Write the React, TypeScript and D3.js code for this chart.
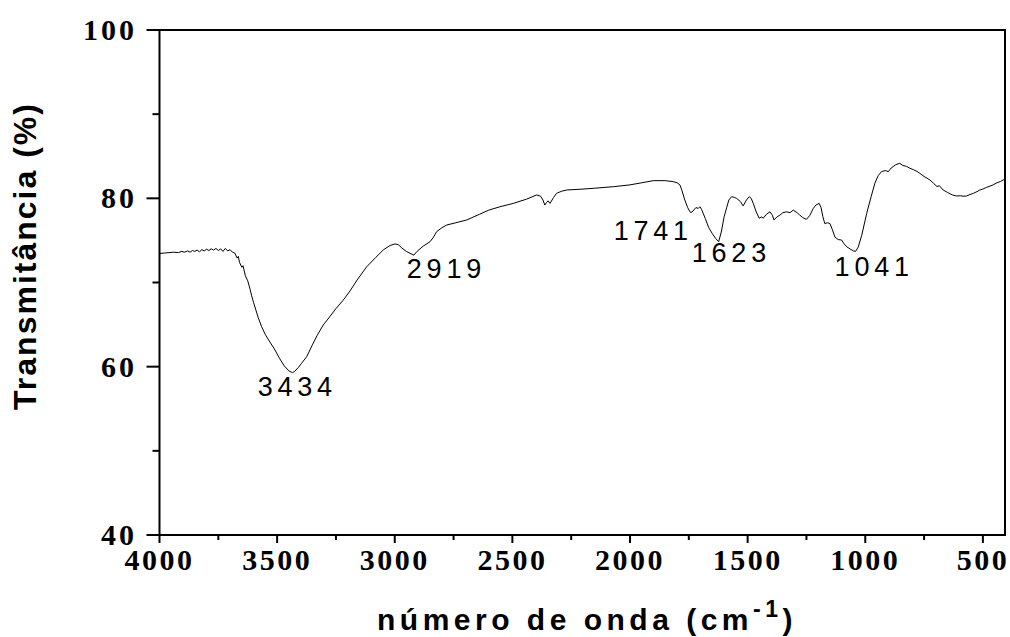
import React from "react";
import * as d3 from "d3";

// FTIR spectrum: wavenumber (cm-1) and transmittance (%)
const wavenumber = [
  4000, 3980, 3960, 3940, 3920, 3905, 3895, 3880, 3870, 3860, 3850, 3840, 3830, 3820, 3810, 3800,
  3790, 3780, 3770, 3760, 3750, 3740, 3730, 3720, 3710, 3700, 3690, 3680, 3670, 3665, 3660, 3650,
  3645, 3635, 3625, 3615, 3608, 3600, 3590, 3580, 3566, 3550, 3530, 3509, 3490, 3470, 3450, 3440,
  3434, 3425, 3410, 3396, 3374, 3350, 3330, 3304, 3280, 3250, 3219, 3190, 3160, 3119, 3080, 3049,
  3020, 2999, 2985, 2970, 2949, 2930, 2919, 2905, 2880, 2850, 2835, 2822, 2800, 2779, 2740, 2694,
  2640, 2600, 2553, 2496, 2440, 2397, 2380, 2370, 2362, 2355, 2348, 2340, 2325, 2312, 2290, 2269,
  2200, 2150, 2071, 2000, 1950, 1901, 1850, 1816, 1800, 1788, 1780, 1767, 1755, 1745, 1741, 1732,
  1720, 1710, 1703, 1696, 1680, 1665, 1650, 1635, 1623, 1612, 1600, 1589, 1580, 1568, 1555, 1547,
  1530, 1519, 1505, 1493, 1485, 1476, 1465, 1451, 1440, 1434, 1420, 1405, 1395, 1388, 1375, 1363,
  1350, 1335, 1320, 1306, 1290, 1278, 1265, 1250, 1235, 1221, 1210, 1196, 1188, 1180, 1172, 1160,
  1150, 1140, 1129, 1115, 1101, 1090, 1079, 1065, 1050, 1041, 1030, 1015, 994, 975, 959, 945,
  931, 915, 902, 890, 870, 853, 840, 825, 810, 795, 780, 768, 750, 725, 710, 695,
  685, 669, 650, 630, 612, 595, 580, 569, 555, 540, 525, 513, 500, 485, 470, 456,
  440, 425, 414, 406,
];

const transmittance = [
  73.45, 73.5, 73.55, 73.6, 73.55, 73.7, 73.6, 73.75, 73.6, 73.8, 73.7, 73.85, 73.65, 73.9, 73.75, 73.95,
  73.8, 74.0, 73.85, 74.05, 73.8, 74.0, 73.7, 74.05, 73.75, 73.9, 73.6, 73.5, 72.9, 73.1, 72.4, 71.8,
  72.0, 70.8, 70.2, 69.2, 68.4, 67.6, 66.7, 65.8, 64.75, 63.8, 62.9, 61.98, 61.0, 60.1, 59.5, 59.35,
  59.3, 59.45, 59.9, 60.4, 61.2, 62.6, 63.7, 64.95, 65.8, 66.9, 67.9, 69.0, 70.3, 71.88, 73.0, 73.86,
  74.4, 74.58, 74.5, 74.1, 73.66, 73.4, 73.25, 73.7, 74.3, 74.85, 75.4, 76.04, 76.5, 76.83, 77.1, 77.43,
  78.1, 78.6, 79.0, 79.4, 79.9, 80.4, 80.25, 79.8, 79.2, 79.5, 79.7, 79.4, 80.1, 80.6, 80.85, 80.99,
  81.1, 81.2, 81.38, 81.6, 81.85, 82.1, 82.1, 81.98, 81.85, 81.6, 81.0, 79.8, 78.9, 78.4, 78.3, 78.5,
  78.9, 78.8, 79.0, 78.7, 77.6, 76.5, 75.8, 75.2, 74.85, 76.0, 77.8, 78.9, 79.8, 80.2, 80.1, 80.0,
  79.6, 79.1, 79.8, 80.2, 80.0, 79.4, 78.5, 77.63, 77.8, 77.63, 78.1, 78.4, 78.0, 77.43, 77.8, 78.0,
  78.3, 78.4, 78.3, 78.6, 78.3, 78.0, 77.7, 77.5, 78.0, 78.8, 79.2, 79.4, 78.9, 77.8, 77.0, 77.1,
  77.0, 76.3, 75.4, 75.1, 75.05, 74.6, 74.25, 74.0, 73.75, 73.7, 74.2, 75.6, 78.2, 80.2, 81.8, 82.7,
  83.17, 83.3, 83.17, 83.6, 84.0, 84.16, 83.9, 83.8, 83.57, 83.4, 83.2, 82.97, 82.6, 82.18, 81.8, 81.4,
  81.5, 80.99, 80.7, 80.4, 80.28, 80.3, 80.25, 80.28, 80.45, 80.6, 80.8, 80.99, 81.1, 81.3, 81.45, 81.6,
  81.85, 82.0, 82.18, 82.3,
];

// Annotated absorption bands
const peakWavenumbers = [3434, 2919, 1741, 1623, 1041];

const xTickValues = [4000, 3500, 3000, 2500, 2000, 1500, 1000, 500];
const xMinorValues = [3750, 3250, 2750, 2250, 1750, 1250, 750];
const yTickValues = [40, 60, 80, 100];
const yMinorValues = [50, 70, 90];

// label placement relative to each band minimum: [dx, dy, anchor]
const peakLabelLayout: [number, number, string][] = [
  [-35, 23, "start"],
  [-7, 23, "start"],
  [2, 27, "end"],
  [-27, 20, "start"],
  [-21, 25, "start"],
];

export default function App() {
  const left = 159.5;
  const right = 1005;
  const top = 30;
  const bottom = 535;

  const x = d3.scaleLinear().domain([4000, 406]).range([left, right]);
  const y = d3.scaleLinear().domain([40, 100]).range([bottom, top]);

  const points = wavenumber.map((w, i) => [w, transmittance[i]] as [number, number]);
  const line = d3
    .line<[number, number]>()
    .x((d) => x(d[0]))
    .y((d) => y(d[1]));

  const valueAt = (w: number) => {
    const i = wavenumber.indexOf(w);
    return transmittance[i];
  };

  const serifBold = { fontFamily: "'Liberation Serif', 'Times New Roman', serif", fontWeight: 700 };
  const sans = "'Liberation Sans', Arial, sans-serif";

  return (
    <svg
      width={1010}
      height={637}
      style={{ position: "absolute", left: 0, top: 0, background: "#fff" }}
    >
      <rect x={0} y={0} width={1010} height={637} fill="#fff" />

      {/* spectrum */}
      <path d={line(points) ?? ""} fill="none" stroke="#000" strokeWidth={1} strokeLinejoin="round" />

      {/* frame */}
      <rect x={left} y={top} width={right - left} height={bottom - top} fill="none" stroke="#000" strokeWidth={2} />

      {/* y ticks */}
      {yTickValues.map((v) => (
        <g key={`yt${v}`}>
          <line x1={left - 13} x2={left} y1={y(v)} y2={y(v)} stroke="#000" strokeWidth={2} />
          <text
            x={137}
            y={y(v)}
            dy="0.33em"
            textAnchor="end"
            fontSize={30}
            letterSpacing={3}
            style={serifBold}
          >
            {v}
          </text>
        </g>
      ))}
      {yMinorValues.map((v) => (
        <line key={`ym${v}`} x1={left - 7} x2={left} y1={y(v)} y2={y(v)} stroke="#000" strokeWidth={2} />
      ))}

      {/* x ticks */}
      {xTickValues.map((v) => (
        <g key={`xt${v}`}>
          <line x1={x(v)} x2={x(v)} y1={bottom} y2={bottom + 8} stroke="#000" strokeWidth={2} />
          <text x={x(v)} y={570} textAnchor="middle" fontSize={30} letterSpacing={2.5} style={serifBold}>
            {v}
          </text>
        </g>
      ))}
      {xMinorValues.map((v) => (
        <line key={`xm${v}`} x1={x(v)} x2={x(v)} y1={bottom} y2={bottom + 5} stroke="#000" strokeWidth={2} />
      ))}

      {/* band labels */}
      {peakWavenumbers.map((w, i) => {
        const [dx, dy, anchor] = peakLabelLayout[i];
        return (
          <text
            key={`pk${w}`}
            x={x(w) + dx}
            y={y(valueAt(w)) + dy}
            textAnchor={anchor as any}
            fontSize={27}
            letterSpacing={4.8}
            fontFamily={sans}
            fill="#000"
          >
            {w}
          </text>
        );
      })}

      {/* axis titles */}
      <text x={377} y={630} fontSize={30} fontWeight={700} fontFamily={sans} letterSpacing={4.5}>
        número de onda (cm
        <tspan fontSize={23} dy={-13}>-1</tspan>
        <tspan dy={13}>)</tspan>
      </text>
      <text
        transform="translate(36,256) rotate(-90)"
        textAnchor="middle"
        fontSize={32}
        fontWeight={700}
        fontFamily={sans}
        letterSpacing={2}
      >
        Transmitância (%)
      </text>
    </svg>
  );
}
